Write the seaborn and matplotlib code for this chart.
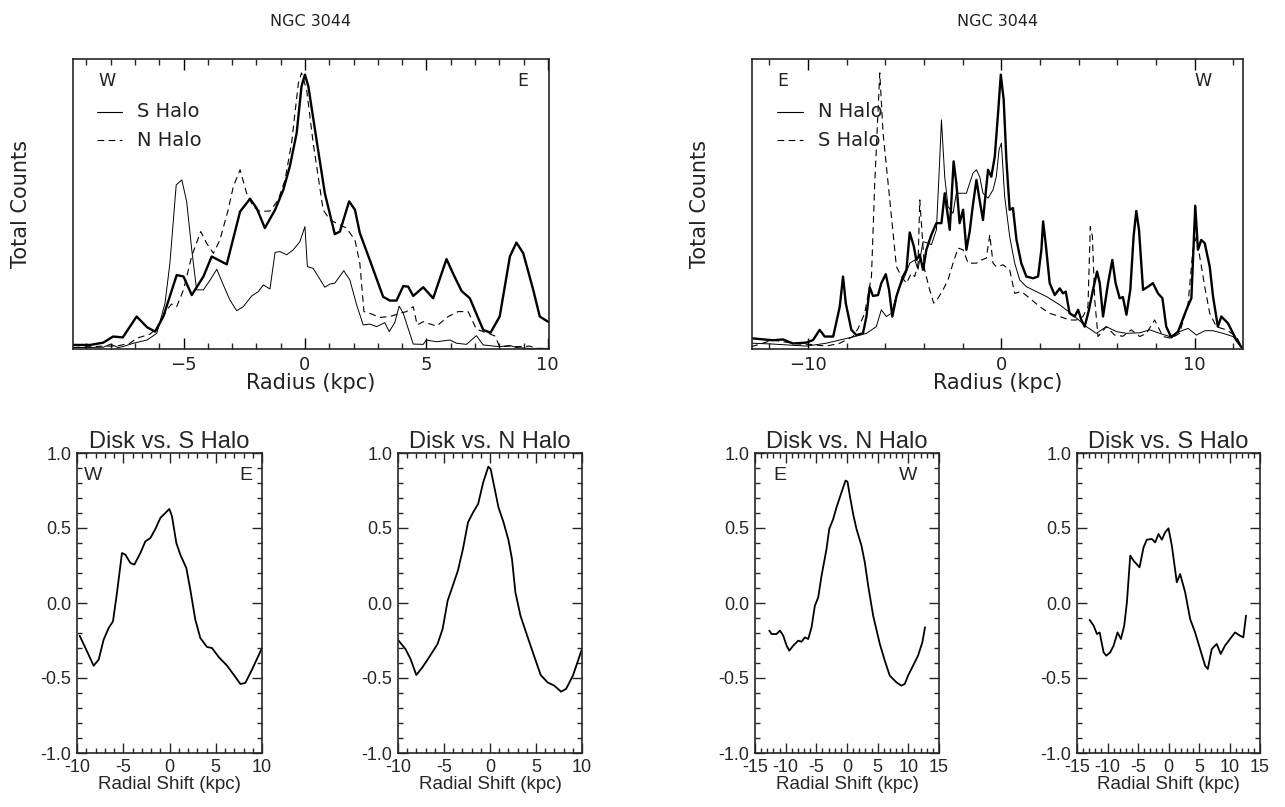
import numpy as np
import pandas as pd
import matplotlib
matplotlib.use("Agg")
import matplotlib.pyplot as plt
import seaborn as sns
from matplotlib.ticker import MultipleLocator

# ---- top-left panel (NGC 3044, W..E) : radius (kpc) and counts (arbitrary, 0..100)
tl_disk_x = [-9.53, -8.85, -8.3, -7.9, -7.5, -6.93, -6.5, -6.17, -5.83, -5.28, -5.0, -4.66, -4.18, -3.84,
             -3.22, -2.67, -2.26, -1.99, -1.65, -1.23, -0.89, -0.62, -0.34, -0.14, 0.0, 0.14, 0.48, 0.82,
             1.23, 1.44, 1.82, 2.06, 2.26, 2.67, 3.22, 3.5, 3.77, 4.05, 4.25, 4.46, 4.87, 5.28, 5.83, 6.1,
             6.45, 6.79, 7.34, 7.64, 8.02, 8.44, 8.71, 8.99, 9.4, 9.67, 10.01]
tl_disk_y = [1.4, 1.4, 2.2, 4.3, 4.0, 11.2, 7.5, 6.0, 11.2, 25.5, 25.0, 18.6, 25.0, 31.9,
             29.2, 47.4, 51.8, 48.6, 41.7, 48.0, 54.9, 63.0, 74.5, 90.6, 94.6, 90.6, 72.0, 53.7,
             39.6, 40.5, 50.9, 48.0, 40.0, 30.7, 18.0, 16.7, 16.7, 21.7, 21.5, 18.3, 21.3, 17.5, 31.0, 26.0,
             20.0, 17.5, 6.6, 5.6, 11.2, 31.9, 36.7, 33.0, 20.4, 11.2, 9.4]

tl_s_x = [-9.53, -8.3, -8.0, -7.7, -7.5, -7.06, -6.5, -6.1, -5.76, -5.56, -5.3, -5.07, -4.87, -4.66, -4.46,
          -4.18, -3.9, -3.63, -3.36, -3.09, -2.81, -2.54, -2.19, -1.92, -1.71, -1.44, -1.23, -1.03, -0.75,
          -0.48, -0.21, 0.0, 0.1, 0.34, 0.82, 1.03, 1.23, 1.6, 1.85, 2.13, 2.4, 2.67, 2.95, 3.29, 3.47,
          3.7, 3.88, 4.05, 4.25, 4.46, 4.87, 5.0, 5.42, 5.97, 6.24, 6.65, 7.06, 7.34, 8.02, 8.44, 8.71,
          9.26, 10.01]
tl_s_y = [0.5, 0.6, 1.7, 0.5, 0.8, 2.0, 3.1, 5.4, 15.8, 29.6, 56.6, 58.3, 50.9, 34.2, 20.4,
          20.4, 23.8, 27.5, 22.1, 16.9, 13.2, 14.6, 18.3, 19.8, 22.1, 20.7, 33.3, 33.6, 32.5,
          34.2, 37.0, 42.2, 28.4, 27.8, 21.3, 22.4, 22.7, 27.0, 23.8, 15.2, 8.3, 8.6, 7.7, 9.1, 6.0,
          9.1, 14.8, 12.3, 7.1, 1.7, 1.6, 3.1, 2.5, 3.1, 2.0, 1.6, 4.6, 1.4, 0.8, 1.2, 0.5,
          0.2, 0.2]

tl_n_x = [-9.53, -8.3, -7.75, -7.2, -6.93, -6.38, -6.04, -5.69, -5.49, -5.28, -5.0, -4.66, -4.29, -4.05,
          -3.77, -3.5, -3.16, -2.95, -2.67, -2.4, -2.13, -1.85, -1.44, -1.1, -0.82, -0.55, -0.27, -0.14,
          0.07, 0.34, 0.75, 1.03, 1.3, 1.71, 2.06, 2.26, 2.43, 2.67, 3.09, 3.5, 3.91, 4.18, 4.46, 4.62,
          4.87, 5.42, 5.9, 6.31, 6.72, 7.06, 7.48, 7.82, 8.02, 8.44, 8.71, 9.26, 9.53, 10.01]
tl_n_y = [0.5, 1.0, 1.0, 2.0, 3.7, 5.1, 7.7, 13.5, 15.5, 14.6, 20.4, 32.1, 40.5, 36.5,
          33.0, 37.6, 48.0, 56.0, 61.8, 53.7, 49.1, 47.4, 47.6, 51.4, 58.3, 71.0, 91.7, 95.2,
          89.4, 71.0, 48.0, 44.5, 43.4, 41.7, 37.6, 29.6, 12.9, 12.3, 10.9, 11.2, 12.3, 12.9, 14.6, 8.3,
          9.4, 7.9, 11.2, 12.9, 12.9, 6.8, 5.6, 4.5, 0.8, 1.0, 0.8, 1.0, 0.2, 0.2]

# ---- top-right panel (NGC 3044, E..W)
tr_disk_x = [-12.93, -11.81, -11.3, -10.78, -10.09, -9.74, -9.4, -9.14, -8.7, -8.36, -8.19, -8.05, -7.76,
             -7.5, -7.16, -6.98, -6.81, -6.64, -6.38, -6.21, -5.98, -5.81, -5.64, -5.43, -5.09, -4.91,
             -4.74, -4.53, -4.4, -4.22, -4.05, -3.88, -3.62, -3.36, -3.1, -2.93, -2.67, -2.47, -2.33,
             -2.16, -1.98, -1.81, -1.64, -1.47, -1.29, -1.12, -0.95, -0.69, -0.52, -0.34, -0.17, -0.03,
             0.12, 0.26, 0.43, 0.6, 0.78, 1.03, 1.29, 1.64, 1.9, 2.07, 2.16, 2.29, 2.5, 2.76, 3.02, 3.19,
             3.33, 3.53, 3.79, 3.97, 4.14, 4.31, 4.53, 4.74, 4.95, 5.09, 5.26, 5.52, 5.74, 5.91, 6.12,
             6.29, 6.47, 6.67, 6.84, 6.98, 7.12, 7.33, 7.59, 7.84, 8.1, 8.33, 8.53, 8.79, 9.14, 9.57,
             9.83, 10.03, 10.17, 10.34, 10.52, 10.78, 10.95, 11.2, 11.38, 11.72, 12.16, 12.47]
tr_disk_y = [3.7, 3.0, 3.3, 1.9, 2.2, 3.1, 6.6, 4.3, 4.3, 14.6, 25.0, 15.8, 6.6,
             4.8, 5.4, 11.2, 21.3, 18.3, 18.6, 22.7, 25.8, 20.4, 11.2, 18.1, 25.0, 27.3,
             40.2, 35.4, 30.7, 32.5, 27.3, 34.2, 39.4, 43.4, 43.4, 53.7, 41.1, 64.7, 57.2,
             43.4, 48.0, 34.2, 40.5, 49.8, 58.3, 51.1, 44.5, 61.8, 59.4, 66.4, 81.4, 94.6,
             86.0, 65.2, 48.0, 48.6, 37.7, 29.6, 25.0, 24.4, 25.0, 34.2, 44.0, 36.5, 22.7, 18.6, 20.9, 19.2,
             19.8, 12.3, 11.2, 13.5, 10.0, 7.7, 13.5, 20.4, 26.7, 22.7, 11.2, 22.7, 30.7, 22.7, 17.5,
             17.9, 11.8, 20.4, 38.8, 47.6, 41.1, 20.4, 21.5, 22.7, 19.2, 17.5, 7.7, 4.0, 6.0, 13.5,
             17.5, 49.4, 34.2, 37.6, 36.5, 28.4, 18.1, 7.7, 11.2, 8.9, 3.1, 0.2]

tr_n_x = [-12.93, -11.81, -10.09, -9.05, -8.36, -7.59, -6.98, -6.47, -6.21, -5.95, -5.69, -5.34, -5.0,
          -4.74, -4.48, -4.31, -4.05, -3.79, -3.62, -3.36, -3.19, -3.1, -2.93, -2.76, -2.5, -2.33, -2.07,
          -1.81, -1.64, -1.47, -1.29, -1.12, -0.95, -0.69, -0.43, -0.26, -0.12, 0.0, 0.17, 0.43, 0.69,
          0.95, 1.29, 1.81, 2.33, 3.02, 3.71, 4.4, 4.91, 5.43, 5.95, 6.47, 7.16, 7.67, 8.19, 8.71, 9.22,
          9.66, 10.09, 10.52, 10.95, 11.47, 11.98, 12.47]
tr_n_y = [2.0, 1.7, 1.0, 2.0, 3.1, 4.3, 5.4, 7.7, 13.5, 11.2, 12.3, 20.4, 25.0,
          29.6, 30.7, 27.5, 37.0, 36.5, 36.0, 41.1, 65.2, 79.0, 59.4, 49.1, 46.8, 53.7, 53.7,
          53.7, 57.2, 60.6, 61.8, 59.4, 53.7, 52.0, 54.9, 59.5, 68.7, 71.0, 52.6, 38.8, 29.6,
          23.8, 21.5, 19.8, 18.1, 15.2, 11.7, 7.7, 5.4, 7.7, 6.0, 5.4, 5.6, 6.6, 5.4, 4.3, 6.0,
          7.1, 4.8, 6.3, 6.3, 5.4, 4.3, 0.2]

tr_s_x = [-12.93, -11.81, -11.3, -10.44, -9.92, -9.05, -8.36, -7.67, -7.41, -7.07, -6.72, -6.55, -6.29,
          -6.12, -5.86, -5.6, -5.43, -5.17, -4.91, -4.66, -4.48, -4.31, -4.22, -4.09, -3.97, -3.71, -3.5,
          -3.28, -3.02, -2.76, -2.5, -2.24, -1.98, -1.72, -1.47, -1.29, -1.03, -0.78, -0.6, -0.43, -0.26,
          0.09, 0.43, 0.69, 1.03, 1.47, 1.98, 2.5, 3.02, 3.53, 3.88, 4.22, 4.48, 4.6, 4.71, 4.83, 5.0,
          5.43, 5.86, 6.29, 6.72, 7.16, 7.5, 7.93, 8.36, 8.79, 9.22, 9.66, 9.91, 10.09, 10.26, 10.52,
          10.78, 11.12, 11.64, 12.16, 12.47]
tr_s_y = [0.8, 3.1, 2.5, 1.7, 1.6, 1.0, 2.0, 4.3, 7.1, 12.3, 25.0, 57.2, 95.2,
          74.5, 57.2, 39.9, 28.4, 25.0, 22.7, 26.1, 25.0, 29.6, 51.4, 38.8, 27.3, 20.4, 15.8,
          17.5, 20.4, 23.8, 29.6, 34.8, 34.2, 29.6, 29.6, 29.6, 30.7, 31.3, 39.4, 29.6, 28.4,
          29.0, 27.3, 19.2, 19.8, 17.5, 14.6, 12.3, 11.2, 10.0, 10.0, 11.2, 14.6, 42.2, 38.8, 16.9, 4.3,
          7.7, 4.8, 4.4, 6.6, 4.3, 5.4, 10.0, 4.3, 3.7, 5.4, 15.8, 34.2, 38.8, 31.9, 21.5,
          12.3, 7.7, 6.6, 4.3, 0.2]

# ---- bottom panels: cross-correlation vs radial shift (kpc)
c1_x = [-9.71, -8.92, -8.2, -7.66, -7.12, -6.58, -6.11, -5.68, -5.14, -4.77, -4.23, -3.8, -3.15, -2.61,
        -2.07, -1.53, -0.99, -0.45, -0.02, 0.27, 0.74, 1.17, 1.82, 2.25, 2.79, 3.33, 4.05, 4.59, 5.32,
        6.22, 6.94, 7.66, 8.2, 8.92, 10.0]
c1_y = [-0.218, -0.322, -0.418, -0.378, -0.244, -0.167, -0.122, 0.067, 0.333, 0.322, 0.267, 0.256, 0.333,
        0.411, 0.433, 0.493, 0.567, 0.6, 0.627, 0.578, 0.4, 0.322, 0.233, 0.089, -0.111, -0.233, -0.293,
        -0.3, -0.36, -0.418, -0.478, -0.54, -0.533, -0.444, -0.3]

c2_x = [-9.93, -9.19, -8.64, -8.01, -7.35, -6.62, -5.7, -5.15, -4.6, -4.04, -3.49, -2.94, -2.39, -1.84,
        -1.29, -0.74, -0.18, 0.07, 0.44, 0.92, 1.47, 2.02, 2.39, 2.76, 3.31, 4.04, 4.78, 5.51, 6.25,
        6.99, 7.72, 8.27, 9.01, 10.0]
c2_y = [-0.251, -0.307, -0.373, -0.48, -0.429, -0.362, -0.273, -0.173, 0.016, 0.116, 0.216, 0.36, 0.538,
        0.604, 0.66, 0.804, 0.909, 0.893, 0.782, 0.638, 0.538, 0.416, 0.293, 0.071, -0.084, -0.218,
        -0.351, -0.48, -0.529, -0.551, -0.591, -0.573, -0.484, -0.307]

c3_x = [-12.67, -12.29, -11.5, -10.93, -10.39, -9.85, -9.41, -8.76, -7.95, -7.41, -6.86, -6.32, -5.78,
        -5.24, -4.69, -4.15, -3.34, -2.9, -2.25, -1.71, -1.17, -0.62, -0.24, 0.08, 0.46, 1.0, 1.55,
        2.36, 2.9, 3.45, 4.26, 5.35, 6.16, 6.97, 8.06, 8.87, 9.41, 9.96, 10.77, 11.58, 12.29, 12.72]
c3_y = [-0.184, -0.207, -0.207, -0.184, -0.218, -0.284, -0.318, -0.284, -0.251, -0.258, -0.229, -0.24,
        -0.162, -0.018, 0.038, 0.182, 0.36, 0.493, 0.56, 0.638, 0.704, 0.771, 0.816, 0.809, 0.716,
        0.593, 0.493, 0.382, 0.271, 0.116, -0.084, -0.273, -0.384, -0.484, -0.529, -0.551, -0.54,
        -0.484, -0.418, -0.351, -0.262, -0.162]

c4_x = [-12.93, -12.27, -11.73, -11.29, -10.64, -10.2, -9.55, -9.0, -8.35, -7.8, -7.26, -6.82, -6.27,
        -5.73, -4.75, -4.09, -3.55, -2.73, -2.18, -1.64, -1.09, -0.55, 0.0, 0.55, 1.36, 1.91, 2.73,
        3.55, 4.36, 5.18, 6.0, 6.44, 7.09, 7.91, 8.56, 9.27, 10.09, 10.91, 11.73, 12.27, 12.71]
c4_y = [-0.113, -0.151, -0.207, -0.196, -0.329, -0.351, -0.329, -0.284, -0.196, -0.24, -0.151, 0.004,
        0.316, 0.282, 0.238, 0.371, 0.422, 0.427, 0.404, 0.46, 0.422, 0.471, 0.498, 0.382, 0.138,
        0.193, 0.071, -0.107, -0.196, -0.307, -0.418, -0.44, -0.307, -0.273, -0.34, -0.284, -0.24,
        -0.196, -0.218, -0.229, -0.084]

sns.set_style("ticks")
plt.rcParams["font.family"] = ["DejaVu Sans"]
plt.rcParams["xtick.direction"] = "in"
plt.rcParams["ytick.direction"] = "in"
plt.rcParams["axes.unicode_minus"] = False

fig = plt.figure(figsize=(12.85, 8.07), dpi=100)

TXT = "#222222"


def draw_profile(ax, x_disk, y_disk, x_solid, y_solid, x_dash, y_dash, xlim, major, minor,
                 labpos, labs, solid_lab, dash_lab):
    d = pd.DataFrame({"r": x_disk, "c": y_disk})
    s = pd.DataFrame({"r": x_solid, "c": y_solid})
    n = pd.DataFrame({"r": x_dash, "c": y_dash})
    # legend first so the curves are drawn over it, as in the original
    ax.plot([0.05, 0.103], [0.818, 0.818], transform=ax.transAxes, color="black", lw=0.8)
    ax.plot([0.05, 0.103], [0.72, 0.72], transform=ax.transAxes, color="black", lw=0.8,
            linestyle=(0, (6, 4)))
    ax.text(0.135, 0.818, solid_lab, transform=ax.transAxes, fontsize=14, color=TXT, va="center")
    ax.text(0.135, 0.72, dash_lab, transform=ax.transAxes, fontsize=14, color=TXT, va="center")
    ax.text(labpos[0], 0.924, labs[0], transform=ax.transAxes, fontsize=12.5, color=TXT, va="center")
    ax.text(labpos[1], 0.924, labs[1], transform=ax.transAxes, fontsize=12.5, color=TXT, va="center")

    sns.lineplot(data=s, x="r", y="c", ax=ax, color="black", lw=0.7, sort=False, estimator=None)
    sns.lineplot(data=n, x="r", y="c", ax=ax, color="black", lw=0.8, sort=False, estimator=None,
                 linestyle=(0, (6, 4)))
    sns.lineplot(data=d, x="r", y="c", ax=ax, color="black", lw=1.7, sort=False, estimator=None)
    ax.set_xlim(*xlim)
    ax.set_ylim(0, 100)
    ax.xaxis.set_major_locator(MultipleLocator(major))
    ax.xaxis.set_minor_locator(MultipleLocator(minor))
    ax.set_yticks([])
    ax.tick_params(axis="x", which="major", top=True, bottom=True, length=8, width=1,
                   labelsize=13, colors="black", labelcolor=TXT, pad=5)
    ax.tick_params(axis="x", which="minor", top=True, bottom=True, length=4, width=1)
    ax.xaxis.set_major_formatter(matplotlib.ticker.FuncFormatter(
        lambda v, p: ("\u2212%d" % -v) if v < 0 else "%d" % v))
    for sp in ax.spines.values():
        sp.set_linewidth(1.2)
    ax.set_xlabel("Radius (kpc)", fontsize=15, color=TXT, labelpad=-1)
    ax.set_ylabel("Total Counts", fontsize=15, color=TXT, labelpad=30)
    ax.set_title("NGC 3044", fontsize=11.5, color=TXT, pad=24)


ax1 = fig.add_axes([73 / 1285, 1 - 349 / 807, 476 / 1285, 290 / 807])
draw_profile(ax1, tl_disk_x, tl_disk_y, tl_s_x, tl_s_y, tl_n_x, tl_n_y, (-9.55, 10.05), 5, 1,
             (0.053, 0.933), ("W", "E"), "S Halo", "N Halo")

ax2 = fig.add_axes([752 / 1285, 1 - 349 / 807, 491 / 1285, 290 / 807])
draw_profile(ax2, tr_disk_x, tr_disk_y, tr_n_x, tr_n_y, tr_s_x, tr_s_y, (-12.9, 12.5), 10, 2,
             (0.051, 0.902), ("E", "W"), "N Halo", "S Halo")


def draw_corr(ax, x, y, title, xlim, major, labs=None):
    df = pd.DataFrame({"shift": x, "corr": y})
    sns.lineplot(data=df, x="shift", y="corr", ax=ax, color="black", lw=1.3, sort=False, estimator=None)
    ax.set_xlim(*xlim)
    ax.set_ylim(-1.0, 1.0)
    ax.xaxis.set_major_locator(MultipleLocator(major))
    ax.xaxis.set_minor_locator(MultipleLocator(1))
    ax.yaxis.set_major_locator(MultipleLocator(0.5))
    ax.yaxis.set_minor_locator(MultipleLocator(0.1))
    ax.yaxis.set_major_formatter(matplotlib.ticker.FormatStrFormatter("%.1f"))
    ax.tick_params(which="major", top=True, bottom=True, left=True, right=True, length=7,
                   width=1, labelsize=13, pad=4)
    ax.tick_params(which="minor", top=True, bottom=True, left=True, right=True, length=3.5, width=1)
    for lab in ax.get_xticklabels() + ax.get_yticklabels():
        lab.set_family("Liberation Sans")
    for sp in ax.spines.values():
        sp.set_linewidth(1.2)
    ax.set_title(title, fontsize=17, family="Liberation Sans", pad=3)
    ax.set_xlabel("Radial Shift (kpc)", fontsize=13.5, family="Liberation Sans", labelpad=0)
    ax.set_ylabel("")
    if labs is not None:
        ax.text(labs[0][0], 0.925, labs[0][1], transform=ax.transAxes, fontsize=14,
                family="Liberation Sans", va="center")
        ax.text(labs[1][0], 0.925, labs[1][1], transform=ax.transAxes, fontsize=14,
                family="Liberation Sans", va="center")


bot = 1 - 753 / 807
h = 300 / 807
ax3 = fig.add_axes([77 / 1285, bot, 185 / 1285, h])
draw_corr(ax3, c1_x, c1_y, "Disk vs. S Halo", (-10, 10), 5, [(0.035, "W"), (0.88, "E")])
ax4 = fig.add_axes([398 / 1285, bot, 184 / 1285, h])
draw_corr(ax4, c2_x, c2_y, "Disk vs. N Halo", (-10, 10), 5)
ax5 = fig.add_axes([755 / 1285, bot, 184 / 1285, h])
draw_corr(ax5, c3_x, c3_y, "Disk vs. N Halo", (-15, 15), 5, [(0.1, "E"), (0.78, "W")])
ax6 = fig.add_axes([1077 / 1285, bot, 183 / 1285, h])
draw_corr(ax6, c4_x, c4_y, "Disk vs. S Halo", (-15, 15), 5)

fig.savefig("out.png", dpi=100)
